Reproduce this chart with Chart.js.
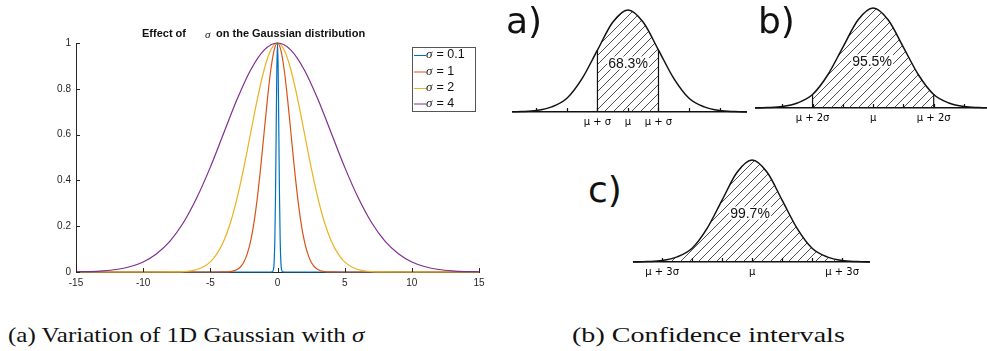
<!DOCTYPE html>
<html>
<head>
<meta charset="utf-8">
<script src="https://cdn.jsdelivr.net/npm/chart.js@4.4.1/dist/chart.umd.min.js"></script>
<style>
  html, body { margin: 0; padding: 0; background: #fff; }
  body { width: 987px; height: 351px; position: relative; overflow: hidden; }
  canvas { position: absolute; }
  .lbl { position: absolute; font-family: "DejaVu Sans", sans-serif; font-size: 36px; line-height: 1; color: #111; }
  .pct { position: absolute; font-family: "Liberation Sans", sans-serif; font-size: 14px; line-height: 13px; color: #111;
         transform: translate(-50%, -50%); background: #fff; padding: 0 1px; }
  .cap { position: absolute; font-family: "Liberation Serif", serif; font-size: 22px; line-height: 22px; color: #111; top: 324px;
         white-space: nowrap; transform-origin: 0 0; }
</style>
</head>
<body>
<canvas id="gauss" width="500" height="300" style="left:0;top:0"></canvas>
<canvas id="panelA" width="235" height="129" style="left:512px;top:6px"></canvas>
<canvas id="panelB" width="232" height="127" style="left:755px;top:4px"></canvas>
<canvas id="panelC" width="237" height="129" style="left:633px;top:156px"></canvas>

<div class="lbl" style="left:506px;top:3px">a)</div>
<div class="lbl" style="left:758px;top:3px">b)</div>
<div class="lbl" style="left:588px;top:172px">c)</div>
<div class="pct" style="left:628px;top:63px">68.3%</div>
<div class="pct" style="left:872px;top:61px">95.5%</div>
<div class="pct" style="left:750px;top:213px">99.7%</div>
<div class="cap" id="capA" data-w="357" style="left:8px">(a) Variation of 1D Gaussian with <i>σ</i></div>
<div class="cap" id="capB" data-w="273" style="left:572px">(b) Confidence intervals</div>

<script>
// Left chart: effect of sigma
const sigmaLabels = ['0.1', '1', '2', '4'];
const sigmaColors = ['#0072BD', '#D95319', '#EDB120', '#7E2F8E'];

const s01X = [-15, -0.5, -0.4, -0.3, -0.25, -0.2, -0.15, -0.1, -0.05, 0, 0.05, 0.1, 0.15, 0.2, 0.25, 0.3, 0.4, 0.5, 15];
const s01Y = [0, 0, 0.0003, 0.011, 0.044, 0.135, 0.325, 0.607, 0.882, 1, 0.882, 0.607, 0.325, 0.135, 0.044, 0.011, 0.0003, 0, 0];

const s1X = [-15, -5, -4, -3.5, -3, -2.75, -2.5, -2.25, -2, -1.75, -1.5, -1.25, -1, -0.75, -0.5, -0.25, 0,
             0.25, 0.5, 0.75, 1, 1.25, 1.5, 1.75, 2, 2.25, 2.5, 2.75, 3, 3.5, 4, 5, 15];
const s1Y = [0, 0, 0.0003, 0.002, 0.011, 0.023, 0.044, 0.080, 0.135, 0.216, 0.325, 0.458, 0.607, 0.755, 0.882, 0.969, 1,
             0.969, 0.882, 0.755, 0.607, 0.458, 0.325, 0.216, 0.135, 0.080, 0.044, 0.023, 0.011, 0.002, 0.0003, 0, 0];

const s2X = [-15, -9, -8, -7, -6, -5.5, -5, -4.5, -4, -3.5, -3, -2.5, -2, -1.5, -1, -0.5, 0,
             0.5, 1, 1.5, 2, 2.5, 3, 3.5, 4, 4.5, 5, 5.5, 6, 7, 8, 9, 15];
const s2Y = [0, 0, 0.0003, 0.002, 0.011, 0.023, 0.044, 0.080, 0.135, 0.216, 0.325, 0.458, 0.607, 0.755, 0.882, 0.969, 1,
             0.969, 0.882, 0.755, 0.607, 0.458, 0.325, 0.216, 0.135, 0.080, 0.044, 0.023, 0.011, 0.002, 0.0003, 0, 0];

const s4X = [-15, -14, -13, -12, -11, -10, -9, -8, -7, -6, -5, -4, -3, -2, -1, 0,
             1, 2, 3, 4, 5, 6, 7, 8, 9, 10, 11, 12, 13, 14, 15];
const s4Y = [0.001, 0.002, 0.005, 0.011, 0.023, 0.044, 0.080, 0.135, 0.216, 0.325, 0.458, 0.607, 0.755, 0.882, 0.969, 1,
             0.969, 0.882, 0.755, 0.607, 0.458, 0.325, 0.216, 0.135, 0.080, 0.044, 0.023, 0.011, 0.005, 0.002, 0.001];

const gaussXTicks = [-15, -10, -5, 0, 5, 10, 15];
const gaussYTicks = [0, 0.2, 0.4, 0.6, 0.8, 1];

// Right panels: hand drawn bells, x in sigma units
const bellX = [-4, -3.5, -3, -2.5, -2, -1.5, -1, -0.5, 0, 0.5, 1, 1.5, 2, 2.5, 3, 3.5, 4];
const bellY = [0, 0.004, 0.014, 0.05, 0.135, 0.33, 0.607, 0.88, 1, 0.88, 0.607, 0.33, 0.135, 0.05, 0.014, 0.004, 0];
const bellTicks = [-3, -2, -1, 0, 1, 2, 3];
const labelsA = { '-1': 'μ + σ', '0': 'μ', '1': 'μ + σ' };
const labelsB = { '-2': 'μ + 2σ', '0': 'μ', '2': 'μ + 2σ' };
const labelsC = { '-3': 'μ + 3σ', '0': 'μ', '3': 'μ + 3σ' };

const pts = (xs, ys) => xs.map((x, i) => ({ x, y: ys[i] }));

// ticks drawn inward like the source
const innerTicks = {
  id: 'innerTicks',
  afterDatasetsDraw(chart, args, opts) {
    if (!opts.x && !opts.y) return;
    const { ctx, chartArea, scales } = chart;
    ctx.save();
    ctx.strokeStyle = opts.color;
    ctx.lineWidth = opts.width;
    ctx.beginPath();
    (opts.x || []).forEach(v => {
      const px = Math.round(scales.x.getPixelForValue(v)) + 0.5;
      ctx.moveTo(px, chartArea.bottom);
      ctx.lineTo(px, chartArea.bottom - opts.len);
    });
    (opts.y || []).forEach(v => {
      const py = Math.round(scales.y.getPixelForValue(v)) + 0.5;
      ctx.moveTo(chartArea.left, py);
      ctx.lineTo(chartArea.left + opts.len, py);
    });
    ctx.stroke();
    ctx.restore();
  }
};

// MATLAB style title and boxed legend
const matlabDecor = {
  id: 'matlabDecor',
  afterDraw(chart, args, opts) {
    if (!opts.on) return;
    const ctx = chart.ctx;
    ctx.save();
    ctx.fillStyle = '#111';
    ctx.textBaseline = 'middle';
    ctx.font = 'bold 11px "Liberation Sans"';
    ctx.fillText('Effect of', 142, 34);
    ctx.font = 'italic 11px "Liberation Serif"';
    ctx.fillText('σ', 205, 35);
    ctx.font = 'bold 11px "Liberation Sans"';
    ctx.fillText('on the Gaussian distribution', 216, 34);

    ctx.fillStyle = '#fff';
    ctx.fillRect(412, 47, 64, 65);
    ctx.strokeStyle = '#555';
    ctx.lineWidth = 1;
    ctx.strokeRect(412.5, 47.5, 63, 64);
    const rows = [55, 71.5, 88, 103.5];
    sigmaLabels.forEach((lab, i) => {
      ctx.strokeStyle = sigmaColors[i];
      ctx.beginPath();
      ctx.moveTo(414, rows[i] + 0.5);
      ctx.lineTo(426, rows[i] + 0.5);
      ctx.stroke();
      ctx.fillStyle = '#111';
      ctx.font = 'italic 13px "Liberation Serif"';
      ctx.fillText('σ', 426, rows[i]);
      ctx.font = '12.5px "Liberation Sans"';
      ctx.fillText(' = ' + lab, 433, rows[i]);
    });
    ctx.restore();
  }
};

Chart.register(innerTicks, matlabDecor);

const sigmaSets = [[s01X, s01Y], [s1X, s1Y], [s2X, s2Y], [s4X, s4Y]];

new Chart(document.getElementById('gauss'), {
  type: 'line',
  data: {
    datasets: sigmaSets.map(([xs, ys], i) => ({
      label: 'σ = ' + sigmaLabels[i],
      data: pts(xs, ys),
      borderColor: sigmaColors[i],
      borderWidth: 1.2,
      pointRadius: 0,
      cubicInterpolationMode: 'monotone',
      order: 4 - i,
      clip: false
    }))
  },
  options: {
    responsive: false,
    animation: false,
    devicePixelRatio: 1,
    layout: { padding: { top: 43, right: 21, left: 0, bottom: 0 }, autoPadding: false },
    plugins: {
      legend: { display: false },
      tooltip: { enabled: false },
      innerTicks: { x: gaussXTicks, y: gaussYTicks, len: 4, color: '#262626', width: 1 },
      matlabDecor: { on: true }
    },
    scales: {
      x: {
        type: 'linear', min: -15, max: 15,
        afterBuildTicks: s => { s.ticks = gaussXTicks.map(v => ({ value: v })); },
        afterFit: s => { s.height = 28; },
        ticks: { color: '#262626', font: { family: 'Liberation Sans', size: 10 }, padding: 5, maxRotation: 0,
                 callback: v => String(v) },
        grid: { drawOnChartArea: false, drawTicks: false },
        border: { color: '#262626', width: 1 }
      },
      y: {
        min: 0, max: 1,
        afterBuildTicks: s => { s.ticks = gaussYTicks.map(v => ({ value: v })); },
        afterFit: s => { s.width = 76; },
        ticks: { color: '#262626', font: { family: 'Liberation Sans', size: 10 }, padding: 5,
                 callback: v => String(+v.toFixed(1)) },
        grid: { drawOnChartArea: false, drawTicks: false },
        border: { color: '#262626', width: 1 }
      }
    }
  }
});

// diagonal hatch pattern
function hatch() {
  const c = document.createElement('canvas');
  c.width = 9; c.height = 9;
  const g = c.getContext('2d');
  g.strokeStyle = '#222';
  g.lineWidth = 0.8;
  g.beginPath();
  g.moveTo(0, 9); g.lineTo(9, 0);
  g.moveTo(-1, 1); g.lineTo(1, -1);
  g.moveTo(8, 10); g.lineTo(10, 8);
  g.stroke();
  return g.createPattern(c, 'repeat');
}

function makePanel(id, xmin, xmax, lo, hi, labels, edges) {
  const shadeIdx = bellX.map((x, i) => i).filter(i => bellX[i] >= lo && bellX[i] <= hi);
  const datasets = [
    {
      data: pts(bellX, bellY),
      borderColor: '#111', borderWidth: 1.5, pointRadius: 0,
      cubicInterpolationMode: 'monotone', clip: false, fill: false
    },
    {
      data: shadeIdx.map(i => ({ x: bellX[i], y: bellY[i] })),
      borderWidth: 0, pointRadius: 0, backgroundColor: hatch(),
      cubicInterpolationMode: 'monotone', fill: 'origin'
    }
  ];
  if (edges) {
    [lo, hi].forEach(v => {
      datasets.push({
        data: [{ x: v, y: 0 }, { x: v, y: bellY[bellX.indexOf(v)] }],
        borderColor: '#111', borderWidth: 1.2, pointRadius: 0, tension: 0, fill: false
      });
    });
  }
  new Chart(document.getElementById(id), {
    type: 'line',
    data: { datasets },
    options: {
      responsive: false,
      animation: false,
      devicePixelRatio: 1,
      layout: { padding: { top: 4, left: 0, right: 0, bottom: 0 }, autoPadding: false },
      plugins: {
        legend: { display: false },
        tooltip: { enabled: false },
        innerTicks: { x: bellTicks, len: 4, color: '#111', width: 1.2 }
      },
      scales: {
        x: {
          type: 'linear', min: xmin, max: xmax,
          afterBuildTicks: s => { s.ticks = Object.keys(labels).map(k => ({ value: +k })); },
          afterFit: s => { s.height = 23; },
          ticks: {
            color: '#000', font: { family: 'DejaVu Sans', size: 10 }, padding: 4, maxRotation: 0,
            callback: v => labels[String(v)]
          },
          grid: { drawOnChartArea: false, drawTicks: false },
          border: { color: '#111', width: 1.5 }
        },
        y: { display: false, min: 0, max: 1 }
      }
    }
  });
}

makePanel('panelA', -3.8, 3.9, -1, 1, labelsA, true);
makePanel('panelB', -3.9, 3.76, -2, 2, labelsB, true);
makePanel('panelC', -3.97, 3.93, -3, 3, labelsC, false);

// stretch captions to the width of the wider source serif
document.querySelectorAll('.cap').forEach(el => {
  const k = +el.dataset.w / el.offsetWidth;
  el.style.transform = 'scaleX(' + k.toFixed(3) + ')';
});
</script>
</body>
</html>
